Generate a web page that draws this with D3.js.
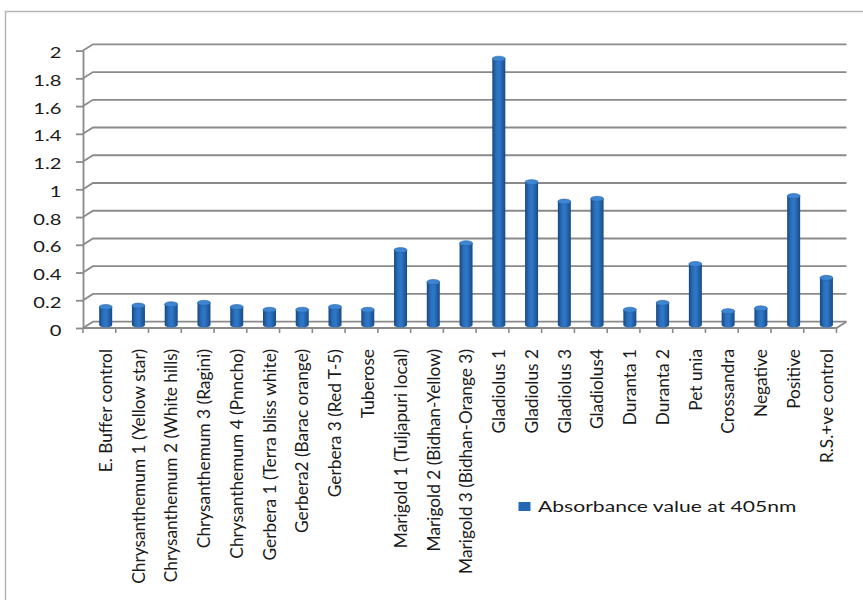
<!DOCTYPE html>
<html>
<head>
<meta charset="utf-8">
<script src="https://cdn.jsdelivr.net/npm/d3@7"></script>
<style>
  body { margin: 0; background: #fff; }
  svg { display: block; }
  text { font-family: Lato, "Open Sans", sans-serif; fill: #1a1a1a; }
</style>
</head>
<body>
<svg id="chart" width="863" height="600"></svg>
<script>
// Samples tested
const categories = [
  "E. Buffer control",
  "Chrysanthemum 1 (Yellow star)",
  "Chrysanthemum 2 (White hills)",
  "Chrysanthemum 3 (Ragini)",
  "Chrysanthemum 4 (Pnncho)",
  "Gerbera 1 (Terra bliss white)",
  "Gerbera2 (Barac orange)",
  "Gerbera 3 (Red T-5)",
  "Tuberose",
  "Marigold 1 (Tuljapuri local)",
  "Marigold 2 (Bidhan-Yellow)",
  "Marigold 3 (Bidhan-Orange 3)",
  "Gladiolus 1",
  "Gladiolus 2",
  "Gladiolus 3",
  "Gladiolus4",
  "Duranta 1",
  "Duranta 2",
  "Pet unia",
  "Crossandra",
  "Negative",
  "Positive",
  "R.S.+ve control"
];

// Absorbance value at 405nm for each sample
const absorbance = [
  0.13, 0.14, 0.15, 0.16, 0.13, 0.11, 0.11, 0.13, 0.11,
  0.54, 0.31, 0.59,
  1.92, 1.03, 0.89, 0.91,
  0.11, 0.16, 0.44, 0.10, 0.12, 0.93, 0.34
];

const yTicks = [0, 0.2, 0.4, 0.6, 0.8, 1, 1.2, 1.4, 1.6, 1.8, 2];
const tickLabels = ["0", "0.2", "0.4", "0.6", "0.8", "1", "1.2", "1.4", "1.6", "1.8", "2"];
const seriesName = "Absorbance value at 405nm";

const svg = d3.select("#chart");

// Outer chart frame
svg.append("rect")
  .attr("x", 5.5).attr("y", 11.5)
  .attr("width", 900).attr("height", 620)
  .attr("fill", "#fff")
  .attr("stroke", "#b4b4b4").attr("stroke-width", 1.5);

// Front plane scales; the back wall and the bars sit deeper in the 3-D box
const x = d3.scaleBand().domain(categories).range([83, 836.5]).padding(0);
const y = d3.scaleLinear().domain([0, 2]).range([328, 50.6]);
const wall = { dx: 10, dy: -6.3 };   // offset of the back wall
const mid = { dx: 6.3, dy: -3 };     // offset of the bar row
const xEnd = x.range()[1];

const gridColor = "#8a8a8a";

// Gridlines on the back wall, joined to the front axis by a short diagonal
const grid = svg.append("g").attr("fill", "none").attr("stroke", gridColor);
grid.selectAll("path.grid")
  .data(yTicks)
  .join("path")
  .attr("class", "grid")
  .attr("stroke-width", 1.8)
  .attr("d", v => {
    const yf = y(v), x0 = x.range()[0];
    return `M${x0},${yf} L${x0 + wall.dx},${yf + wall.dy} L${xEnd + wall.dx},${yf + wall.dy}`;
  });

// Floor: front edge and right edge
grid.append("path")
  .attr("stroke-width", 1.8)
  .attr("d", `M${x.range()[0]},${y(0)} L${xEnd},${y(0)} L${xEnd + wall.dx},${y(0) + wall.dy}`);

// Value axis on the front plane
const yAxis = d3.axisLeft(y)
  .tickValues(yTicks)
  .tickFormat((d, i) => tickLabels[i])
  .tickSize(7)
  .tickSizeOuter(0);

const gy = svg.append("g")
  .attr("transform", `translate(${x.range()[0]},0)`)
  .call(yAxis);
gy.select(".domain").attr("stroke", gridColor).attr("stroke-width", 1.8);
gy.selectAll(".tick line").attr("stroke", gridColor).attr("stroke-width", 1.8);
gy.selectAll(".tick text")
  .attr("x", null).attr("dy", null)
  .attr("transform", "translate(-21.5,7) scale(1.3,1)")
  .attr("text-anchor", "end")
  .style("font-size", "15.5px");

// Category axis: labels under the bars, ticks on the band boundaries
const xAxis = d3.axisBottom(x).tickSize(0).tickSizeOuter(0);
const gx = svg.append("g")
  .attr("transform", `translate(0,${y(0)})`)
  .call(xAxis);
gx.select(".domain").remove();
gx.selectAll(".tick line").remove();
gx.selectAll(".tick text")
  .attr("transform", "rotate(-90)")
  .attr("x", -21)
  .attr("y", mid.dx)
  .attr("dy", "0.36em")
  .attr("text-anchor", "end")
  .style("font-size", "17.3px");

gx.selectAll("line.band")
  .data(d3.range(categories.length + 1))
  .join("line")
  .attr("class", "band")
  .attr("x1", i => x.range()[0] + i * x.step())
  .attr("x2", i => x.range()[0] + i * x.step())
  .attr("y1", 0).attr("y2", 5)
  .attr("stroke", gridColor).attr("stroke-width", 1.6);

// Cylinder shading
const defs = svg.append("defs");
const grad = defs.append("linearGradient")
  .attr("id", "cyl").attr("x1", "0").attr("x2", "1").attr("y1", "0").attr("y2", "0");
[["0%", "#17477f"], ["30%", "#2a6fbd"], ["55%", "#2f78c8"], ["100%", "#174a86"]]
  .forEach(([o, c]) => grad.append("stop").attr("offset", o).attr("stop-color", c));

const barW = 13, ry = 2.5;
const baseY = y(0) + mid.dy;
const rows = categories.map((c, i) => ({ c, v: absorbance[i] }));

const bars = svg.append("g");
bars.selectAll("path.bar")
  .data(rows)
  .join("path")
  .attr("class", "bar")
  .attr("fill", "url(#cyl)")
  .attr("d", d => {
    const cx = x(d.c) + x.bandwidth() / 2 + mid.dx;
    const l = cx - barW / 2, r = cx + barW / 2;
    const top = y(d.v) + mid.dy;
    return `M${l},${top} L${l},${baseY} A${barW / 2},${ry} 0 0 0 ${r},${baseY} L${r},${top} Z`;
  });
bars.selectAll("ellipse.cap")
  .data(rows)
  .join("ellipse")
  .attr("class", "cap")
  .attr("cx", d => x(d.c) + x.bandwidth() / 2 + mid.dx)
  .attr("cy", d => y(d.v) + mid.dy)
  .attr("rx", barW / 2).attr("ry", ry)
  .attr("fill", "#3f86d2")
  .attr("stroke", "#2463a8").attr("stroke-width", 0.6);

// Legend
const legend = svg.append("g").attr("transform", "translate(518.5,502)");
legend.append("rect")
  .attr("width", 12).attr("height", 9)
  .attr("fill", "#2467b5");
legend.append("text")
  .attr("transform", "translate(19.5,9.5) scale(1.32,1)")
  .style("font-size", "16px")
  .text(seriesName);
</script>
</body>
</html>
